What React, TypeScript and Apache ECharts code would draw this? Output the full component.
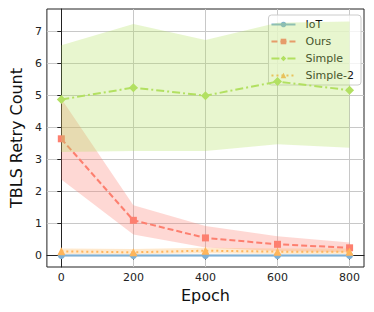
import React, { useEffect, useRef } from "react";
import * as echarts from "echarts";

const epochs = [0, 200, 400, 600, 800];
const xTicks = [0, 200, 400, 600, 800];
const yTicks = [0, 1, 2, 3, 4, 5, 6, 7];

const iotMean = [0, 0, 0, 0, 0];
const iotLo = [-0.03, -0.03, -0.03, -0.03, -0.03];
const iotHi = [0.03, 0.03, 0.03, 0.03, 0.03];

const oursMean = [3.65, 1.1, 0.55, 0.35, 0.24];
const oursLo = [2.38, 0.66, 0.25, 0.14, 0.1];
const oursHi = [4.9, 1.57, 0.92, 0.6, 0.41];

const simpleMean = [4.88, 5.25, 5.0, 5.44, 5.17];
const simpleLo = [3.24, 3.27, 3.27, 3.48, 3.37];
const simpleHi = [6.58, 7.24, 6.74, 7.28, 7.32];

const simple2Mean = [0.13, 0.1, 0.15, 0.12, 0.12];
const simple2Lo = [0.05, 0.04, 0.07, 0.05, 0.05];
const simple2Hi = [0.22, 0.2, 0.24, 0.22, 0.22];

const FONT = "DejaVu Sans";

function band(lo: number[], hi: number[], color: string, opacity: number, z: number) {
  return {
    type: "custom",
    silent: true,
    z,
    clip: true,
    data: epochs.map((e, i) => [e, lo[i], hi[i]]),
    encode: { x: 0, y: [1, 2] },
    renderItem: (params: any, api: any) => {
      if (params.dataIndex !== 0) return null;
      const pts: number[][] = [];
      for (let i = 0; i < epochs.length; i++) pts.push(api.coord([epochs[i], lo[i]]));
      for (let i = epochs.length - 1; i >= 0; i--) pts.push(api.coord([epochs[i], hi[i]]));
      return {
        type: "polygon",
        shape: { points: pts },
        style: { fill: color, opacity },
      };
    },
  };
}

function line(name: string, data: number[], color: string, symbol: string, size: number, dash: any, z: number) {
  return {
    type: "line",
    name,
    z,
    data: epochs.map((e, i) => [e, data[i]]),
    symbol,
    symbolSize: size,
    showSymbol: true,
    itemStyle: { color },
    lineStyle: { color, width: 2, type: dash },
  };
}

export default function App() {
  const ref = useRef<HTMLDivElement>(null);
  useEffect(() => {
    const chart = echarts.init(ref.current!, null, { renderer: "svg" });
    chart.setOption({
      animation: false,
      backgroundColor: "#fff",
      grid: {
        left: 40,
        top: 9,
        right: 10,
        bottom: 45,
        show: true,
        borderColor: "#222",
        borderWidth: 1,
        backgroundColor: "transparent",
      },
      legend: {
        data: ["IoT", "Ours", "Simple", "Simple-2"],
        orient: "vertical",
        right: 13,
        top: 15,
        itemWidth: 24,
        itemHeight: 7,
        itemGap: 4,
        padding: [3, 7, 3, 2],
        backgroundColor: "rgba(255,255,255,0.8)",
        borderColor: "#ccc",
        borderWidth: 1,
        borderRadius: 3,
        textStyle: { fontFamily: FONT, fontSize: 11, lineHeight: 13, color: "#111", padding: [0, 0, 0, 5] },
      },
      xAxis: {
        type: "value",
        min: -40,
        max: 840,
        name: "Epoch",
        nameLocation: "middle",
        nameGap: 18,
        nameTextStyle: { fontFamily: FONT, fontSize: 16, color: "#111" },
        axisLine: { show: true, lineStyle: { color: "#222" } },
        axisTick: { show: true, customValues: xTicks, length: 4, lineStyle: { color: "#222" } },
        axisLabel: { customValues: xTicks, fontFamily: FONT, fontSize: 11, color: "#222", margin: 5 },
        splitLine: { show: true, lineStyle: { color: "#c8c8c8", width: 1 } },
      },
      yAxis: {
        type: "value",
        min: -0.36,
        max: 7.71,
        name: "TBLS Retry Count",
        nameLocation: "middle",
        nameGap: 14,
        nameTextStyle: { fontFamily: FONT, fontSize: 16, color: "#111" },
        axisLine: { show: true, lineStyle: { color: "#222" } },
        axisTick: { show: true, customValues: yTicks, length: 4, lineStyle: { color: "#222" } },
        axisLabel: { customValues: yTicks, fontFamily: FONT, fontSize: 11, color: "#222", margin: 5 },
        splitLine: { show: true, lineStyle: { color: "#c8c8c8", width: 1 } },
      },
      series: [
        band(iotLo, iotHi, "#7eb0d5", 0.3, 1),
        line("IoT", iotMean, "#7eb0d5", "circle", 7, "solid", 2),
        band(oursLo, oursHi, "#fd7f6f", 0.3, 3),
        line("Ours", oursMean, "#fd7f6f", "rect", 7, [6, 3], 4),
        band(simpleLo, simpleHi, "#b2e061", 0.3, 5),
        line("Simple", simpleMean, "#b2e061", "diamond", 9, [8, 3, 2, 3], 6),
        band(simple2Lo, simple2Hi, "#ffb55a", 0.3, 7),
        line("Simple-2", simple2Mean, "#ffb55a", "triangle", 8, [2, 3], 8),
      ],
    });
    return () => chart.dispose();
  }, []);
  return (
    <div
      ref={ref}
      style={{ position: "fixed", left: 0, top: 0, width: 374, height: 312 }}
    />
  );
}
